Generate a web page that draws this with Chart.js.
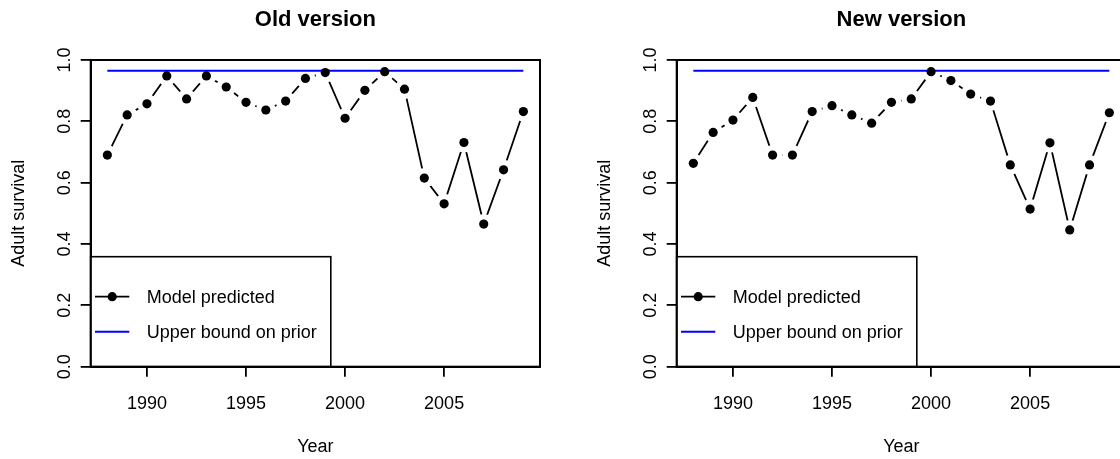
<!DOCTYPE html>
<html><head><meta charset="utf-8">
<script src="https://cdn.jsdelivr.net/npm/chart.js@4"></script>
<style>
html,body{margin:0;padding:0;background:#fff;}
#wrap{position:relative;width:1120px;height:459px;overflow:hidden;background:#fff;}
.panel{position:absolute;top:0;width:586px;height:459px;}
</style></head><body>
<div id="wrap">
  <div class="panel" style="left:0"><canvas id="c1" width="586" height="459"></canvas></div>
  <div class="panel" style="left:586px"><canvas id="c2" width="586" height="459"></canvas></div>
</div>
<script>
const years = [1988,1989,1990,1991,1992,1993,1994,1995,1996,1997,1998,1999,2000,2001,2002,2003,2004,2005,2006,2007,2008,2009];
const oldSurvival = [0.690,0.821,0.857,0.948,0.873,0.948,0.912,0.862,0.837,0.866,0.940,0.959,0.810,0.901,0.962,0.905,0.615,0.531,0.731,0.465,0.642,0.832];
const newSurvival = [0.663,0.764,0.804,0.878,0.690,0.690,0.832,0.851,0.821,0.794,0.862,0.873,0.962,0.933,0.889,0.866,0.658,0.514,0.730,0.446,0.658,0.828];
const upperBound = 0.965;
const xTickValues = [1990,1995,2000,2005];
const yTickValues = [0.0,0.2,0.4,0.6,0.8,1.0];
const panelTitles = ['Old version','New version'];
const seriesLabels = ['Model predicted','Upper bound on prior'];
const xLabel = 'Year';
const yLabel = 'Adult survival';

const FAMILY = '"Liberation Sans", Arial, Helvetica, sans-serif';

const decor = {
  id: 'decor',
  afterDatasetsDraw(chart) {
    const {ctx, chartArea: a} = chart;
    ctx.save();
    // legend (bottom-left, inside plot)
    const ds = chart.data.datasets;
    const items = [ds[0], ds[2]];
    ctx.font = '18px ' + FAMILY;
    const maxW = Math.max(...items.map(d => ctx.measureText(d.label).width));
    const left = a.left, bottom = a.bottom;
    const boxW = 56 + maxW + 14;
    const top = bottom - 110;
    ctx.fillStyle = '#fff';
    ctx.fillRect(left, top, boxW, bottom - top);
    ctx.strokeStyle = '#000'; ctx.lineWidth = 1.6;
    ctx.strokeRect(left, top, boxW, bottom - top);
    const rows = [bottom - 70, bottom - 35];
    items.forEach((d, i) => {
      const ry = rows[i];
      ctx.strokeStyle = d.borderColor; ctx.lineWidth = d.borderWidth;
      ctx.beginPath(); ctx.moveTo(left + 4.3, ry); ctx.lineTo(left + 38.6, ry); ctx.stroke();
      if (i === 0) {
        ctx.fillStyle = '#000';
        ctx.beginPath(); ctx.arc(left + 21.5, ry, 4.6, 0, Math.PI * 2); ctx.fill();
      }
      ctx.fillStyle = '#000'; ctx.textAlign = 'left'; ctx.textBaseline = 'middle';
      ctx.fillText(d.label, left + 56, ry + 1.8);
    });
    // frame
    ctx.strokeStyle = '#000'; ctx.lineWidth = 2;
    ctx.strokeRect(a.left, a.top, a.right - a.left, a.bottom - a.top);
    ctx.restore();
  },
  afterDraw(chart) {
    const {ctx} = chart;
    const ys = chart.scales.y;
    ctx.save();
    ctx.font = '18px ' + FAMILY;
    ctx.fillStyle = '#000'; ctx.textAlign = 'center'; ctx.textBaseline = 'alphabetic';
    ys.ticks.forEach(t => {
      const py = ys.getPixelForValue(t.value);
      ctx.save();
      ctx.translate(ys.right - 20.7, py);
      ctx.rotate(-Math.PI / 2);
      ctx.fillText(Number(t.value).toFixed(1), 0, 0);
      ctx.restore();
    });
    ctx.restore();
  }
};

function makeChart(id, title, values) {
  const pts = years.map((yr, i) => ({x: yr, y: values[i]}));
  const bound = [{x: years[0], y: upperBound}, {x: years[years.length - 1], y: upperBound}];
  return new Chart(document.getElementById(id), {
    type: 'line',
    data: {datasets: [
      {label: seriesLabels[0], data: pts, borderColor: '#000', borderWidth: 1.8, pointRadius: 0, order: 4, tension: 0},
      {label: 'gap', data: pts, showLine: false, pointRadius: 10, pointBackgroundColor: '#fff', pointBorderWidth: 0, order: 3},
      {label: seriesLabels[1], data: bound, borderColor: '#0000ff', borderWidth: 2, pointRadius: 0, order: 2},
      {label: 'points', data: pts, showLine: false, pointRadius: 4.6, pointBackgroundColor: '#000', pointBorderWidth: 0, order: 1}
    ]},
    options: {
      responsive: false, animation: false, events: [],
      layout: {padding: {left: 0, right: 46, top: 0, bottom: 0}},
      plugins: {
        legend: {display: false}, tooltip: {enabled: false},
        title: {display: true, text: title, fullSize: false, color: '#000',
          font: {family: FAMILY, size: 22, weight: 'bold', lineHeight: 1.2},
          padding: {top: 6.5, bottom: 27.1}}
      },
      scales: {
        x: {type: 'linear', min: 1987.16, max: 2009.84,
          afterBuildTicks: s => { s.ticks = xTickValues.map(v => ({value: v})); },
          grid: {drawOnChartArea: false, drawTicks: true, tickLength: 10, color: '#000', lineWidth: 1.8},
          border: {display: true, color: '#000', width: 2},
          ticks: {font: {family: FAMILY, size: 18}, color: '#000', padding: 17, maxRotation: 0, minRotation: 0, autoSkip: false, callback: v => String(v)},
          title: {display: true, text: xLabel, color: '#000', font: {family: FAMILY, size: 18}, padding: {top: 0, bottom: 1.2}},
          afterFit: s => { s.height = 92.3; }
        },
        y: {type: 'linear', min: 0, max: 1,
          afterBuildTicks: s => { s.ticks = yTickValues.map(v => ({value: v})); },
          grid: {drawOnChartArea: false, drawTicks: true, tickLength: 10, color: '#000', lineWidth: 1.8},
          border: {display: true, color: '#000', width: 2},
          ticks: {display: false},
          title: {display: true, text: yLabel, color: '#000', font: {family: FAMILY, size: 18}, padding: {top: 8, bottom: 0}},
          afterFit: s => { s.width = 90.7; }
        }
      }
    },
    plugins: [decor]
  });
}

makeChart('c1', panelTitles[0], oldSurvival);
makeChart('c2', panelTitles[1], newSurvival);
</script>
</body></html>
